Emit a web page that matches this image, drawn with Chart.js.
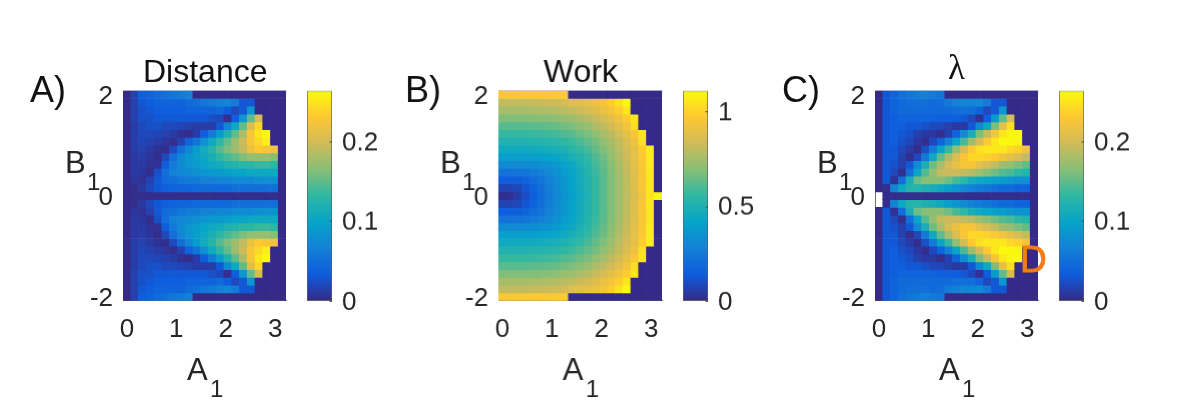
<!DOCTYPE html>
<html>
<head>
<meta charset="utf-8">
<title>Distance, Work and lambda maps</title>
<script src="https://cdn.jsdelivr.net/npm/chart.js@4"></script>
<style>
  html, body { margin: 0; padding: 0; background: #fff; }
  body { position: relative; width: 1200px; height: 405px; overflow: hidden; }
  canvas { position: absolute; display: block; }
</style>
</head>
<body>
<script>
// Grid coordinates of the parameter sweep
const aValues = [0,0.157,0.314,0.471,0.628,0.785,0.942,1.1,1.257,1.414,1.571,1.728,1.885,2.042,2.199,2.356,2.513,2.67,2.827,2.985,3.142];
const bValues = [2,1.846,1.692,1.538,1.385,1.231,1.077,0.923,0.769,0.615,0.462,0.308,0.154,0,-0.154,-0.308,-0.462,-0.615,-0.769,-0.923,-1.077,-1.231,-1.385,-1.538,-1.692,-1.846,-2];

const xTickValues = [0,1,2,3];
const yTickValues = [-2,0,2];

const distanceRange = [0,0.263];
const workRange = [0,1.108];
const lambdaRange = [0,0.263];
const distanceBarTicks = [0,0.1,0.2];
const workBarTicks = [0,0.5,1];
const lambdaBarTicks = [0,0.1,0.2];

// Each row runs along A1, from the top row (B1 = 2) to the bottom row (B1 = -2)
const distanceRows = [
[0,.015,.035,.04,.045,.05,.055,.06,.065,0,0,0,0,0,0,0,0,0,0,0,0],
[0,.015,.03,.035,.04,.04,.04,.04,.045,.05,.055,.06,.065,.07,.06,.03,.03,0,0,0,0],
[0,.015,.025,.03,.035,.035,.035,.035,.04,.04,.04,.04,.045,.035,.02,.03,.085,0,0,0,0],
[0,.015,.025,.025,.03,.03,.03,.03,.03,.03,.03,.025,.02,.003,.035,.085,.15,.2,0,0,0],
[0,.012,.02,.025,.025,.02,.02,.018,.015,.012,.012,.012,.03,.07,.105,.15,.205,.24,0,0,0],
[0,.012,.02,.02,.018,.015,.012,.005,.002,.012,.035,.06,.09,.12,.15,.18,.225,.25,.262,0,0],
[0,.012,.018,.015,.012,.008,.003,.015,.04,.055,.08,.105,.13,.15,.175,.195,.225,.24,.255,0,0],
[0,.012,.015,.01,.005,.002,.02,.05,.07,.09,.11,.125,.145,.16,.175,.19,.215,.23,.225,.22,0],
[0,.01,.012,.008,.002,.02,.05,.07,.085,.095,.105,.115,.13,.14,.15,.16,.17,.17,.17,.165,0],
[0,.01,.01,.005,.005,.035,.06,.075,.085,.09,.1,.105,.11,.12,.125,.13,.13,.135,.135,.13,0],
[0,.01,.008,.002,.025,.05,.065,.07,.075,.08,.085,.09,.09,.095,.1,.1,.105,.105,.105,.105,0],
[0,.008,.005,.015,.03,.045,.05,.055,.06,.06,.065,.065,.07,.07,.075,.075,.075,.08,.08,.08,0],
[0,.003,.01,.02,.03,.035,.04,.04,.04,.045,.045,.045,.045,.045,.05,.05,.05,.05,.05,.05,0],
[0,.002,.002,.002,.002,.002,.002,.002,.002,.002,.002,.002,.002,.002,.002,.002,.002,.002,.002,.002,0],
[0,.003,.01,.02,.03,.035,.04,.04,.04,.045,.045,.045,.045,.045,.05,.05,.05,.05,.05,.05,0],
[0,.008,.005,.015,.03,.045,.05,.055,.06,.06,.065,.065,.07,.07,.075,.075,.075,.08,.08,.08,0],
[0,.01,.008,.002,.025,.05,.065,.07,.075,.08,.085,.09,.09,.095,.1,.1,.105,.105,.105,.105,0],
[0,.01,.01,.005,.005,.035,.06,.075,.085,.09,.1,.105,.11,.12,.125,.13,.13,.135,.135,.13,0],
[0,.01,.012,.008,.002,.02,.05,.07,.085,.095,.105,.115,.13,.14,.15,.16,.17,.17,.17,.165,0],
[0,.012,.015,.01,.005,.002,.02,.05,.07,.09,.11,.125,.145,.16,.175,.19,.215,.23,.225,.22,0],
[0,.012,.018,.015,.012,.008,.003,.015,.04,.055,.08,.105,.13,.15,.175,.195,.225,.24,.255,0,0],
[0,.012,.02,.02,.018,.015,.012,.005,.002,.012,.035,.06,.09,.12,.15,.18,.225,.25,.262,0,0],
[0,.012,.02,.025,.025,.02,.02,.018,.015,.012,.012,.012,.03,.07,.105,.15,.205,.24,0,0,0],
[0,.015,.025,.025,.03,.03,.03,.03,.03,.03,.03,.025,.02,.003,.035,.085,.15,.2,0,0,0],
[0,.015,.025,.03,.035,.035,.035,.035,.04,.04,.04,.04,.045,.035,.02,.03,.085,0,0,0,0],
[0,.015,.03,.035,.04,.04,.04,.04,.045,.05,.055,.06,.065,.07,.06,.03,.03,0,0,0,0],
[0,.015,.035,.04,.045,.05,.055,.06,.065,0,0,0,0,0,0,0,0,0,0,0,0]
];

const workRows = [
[.96,.96,.96,.965,.965,.97,.97,.975,.98,0,0,0,0,0,0,0,0,0,0,0,0],
[.8,.8,.8,.805,.81,.815,.82,.83,.84,.87,.88,.89,.91,.94,.98,1.04,1.1,0,0,0,0],
[.75,.75,.75,.755,.76,.76,.765,.775,.785,.8,.82,.84,.87,.905,.94,.98,1.05,0,0,0,0],
[.68,.68,.68,.68,.685,.69,.695,.705,.72,.735,.755,.78,.81,.845,.885,.93,.98,1.05,0,0,0],
[.62,.62,.62,.62,.625,.63,.635,.645,.66,.675,.7,.725,.76,.795,.835,.88,.93,1.03,0,0,0],
[.565,.565,.565,.565,.57,.575,.58,.59,.605,.625,.65,.675,.71,.75,.79,.84,.89,.95,1.05,0,0],
[.51,.51,.51,.51,.515,.52,.525,.54,.555,.575,.6,.63,.665,.705,.755,.805,.86,.92,1.04,0,0],
[.455,.455,.455,.455,.46,.465,.475,.485,.505,.53,.56,.595,.635,.68,.73,.785,.84,.9,.98,1.07,0],
[.39,.39,.39,.39,.395,.405,.415,.43,.455,.485,.52,.56,.605,.655,.71,.77,.825,.89,.97,1.07,0],
[.31,.31,.31,.315,.325,.335,.35,.375,.41,.445,.49,.535,.585,.64,.695,.755,.815,.88,.96,1.065,0],
[.22,.22,.225,.235,.25,.27,.3,.335,.375,.42,.47,.52,.57,.625,.685,.745,.805,.875,.955,1.06,0],
[.145,.145,.15,.17,.2,.235,.275,.315,.36,.41,.46,.51,.56,.62,.68,.74,.8,.87,.95,1.06,0],
[.07,.07,.08,.12,.16,.21,.26,.31,.36,.41,.46,.51,.56,.62,.68,.74,.8,.87,.95,1.06,0],
[.01,.02,.05,.1,.15,.2,.25,.3,.35,.4,.45,.5,.56,.62,.68,.74,.8,.86,.94,1.05,1.1],
[.07,.07,.08,.12,.16,.21,.26,.31,.36,.41,.46,.51,.56,.62,.68,.74,.8,.87,.95,1.06,0],
[.145,.145,.15,.17,.2,.235,.275,.315,.36,.41,.46,.51,.56,.62,.68,.74,.8,.87,.95,1.06,0],
[.22,.22,.225,.235,.25,.27,.3,.335,.375,.42,.47,.52,.57,.625,.685,.745,.805,.875,.955,1.06,0],
[.31,.31,.31,.315,.325,.335,.35,.375,.41,.445,.49,.535,.585,.64,.695,.755,.815,.88,.96,1.065,0],
[.39,.39,.39,.39,.395,.405,.415,.43,.455,.485,.52,.56,.605,.655,.71,.77,.825,.89,.97,1.07,0],
[.455,.455,.455,.455,.46,.465,.475,.485,.505,.53,.56,.595,.635,.68,.73,.785,.84,.9,.98,1.07,0],
[.51,.51,.51,.51,.515,.52,.525,.54,.555,.575,.6,.63,.665,.705,.755,.805,.86,.92,1.04,0,0],
[.565,.565,.565,.565,.57,.575,.58,.59,.605,.625,.65,.675,.71,.75,.79,.84,.89,.95,1.05,0,0],
[.62,.62,.62,.62,.625,.63,.635,.645,.66,.675,.7,.725,.76,.795,.835,.88,.93,1.03,0,0,0],
[.68,.68,.68,.68,.685,.69,.695,.705,.72,.735,.755,.78,.81,.845,.885,.93,.98,1.05,0,0,0],
[.75,.75,.75,.755,.76,.76,.765,.775,.785,.8,.82,.84,.87,.905,.94,.98,1.05,0,0,0,0],
[.8,.8,.8,.805,.81,.815,.82,.83,.84,.87,.88,.89,.91,.94,.98,1.04,1.1,0,0,0,0],
[.96,.96,.96,.965,.965,.97,.97,.975,.98,0,0,0,0,0,0,0,0,0,0,0,0]
];

// Two cells on the A1 = 0 edge have no value and stay blank
const lambdaRows = [
[0,.03,.04,.05,.055,.06,.065,.06,.055,0,0,0,0,0,0,0,0,0,0,0,0],
[0,.03,.04,.045,.05,.05,.05,.045,.05,.06,.065,.07,.07,.075,.06,.03,.03,0,0,0,0],
[0,.03,.04,.045,.045,.045,.045,.045,.045,.045,.05,.05,.05,.04,.02,.03,.085,0,0,0,0],
[0,.03,.035,.04,.04,.04,.04,.04,.035,.035,.035,.03,.02,.005,.035,.09,.15,.2,0,0,0],
[0,.03,.035,.035,.03,.03,.025,.02,.02,.015,.01,.01,.03,.07,.105,.16,.21,.245,0,0,0],
[0,.03,.035,.03,.025,.015,.01,.01,.002,.015,.04,.075,.115,.16,.19,.225,.25,.26,.263,0,0],
[0,.03,.035,.025,.02,.01,.003,.02,.04,.065,.1,.14,.175,.2,.23,.25,.262,.262,.26,0,0],
[0,.03,.03,.02,.012,.002,.025,.06,.1,.135,.17,.2,.23,.245,.25,.25,.25,.24,.235,.22,0],
[0,.03,.03,.015,.003,.02,.06,.105,.15,.18,.205,.225,.24,.24,.235,.23,.22,.21,.2,.19,0],
[0,.03,.025,.015,.03,.075,.115,.155,.18,.2,.215,.225,.225,.21,.2,.19,.175,.17,.16,.15,0],
[0,.03,.02,.003,.05,.1,.145,.17,.19,.195,.195,.19,.185,.175,.165,.155,.145,.14,.13,.125,0],
[0,.03,.005,.05,.115,.155,.165,.165,.165,.155,.14,.13,.115,.105,.1,.095,.09,.085,.08,.08,0],
[0,.003,.07,.105,.125,.125,.12,.115,.105,.095,.085,.075,.065,.06,.055,.05,.045,.045,.04,.04,0],
[null,.002,.002,.002,.002,.002,.002,.002,.002,.002,.002,.002,.002,.002,.002,.002,.002,.002,.002,.002,0],
[null,.003,.07,.105,.125,.125,.12,.115,.105,.095,.085,.075,.065,.06,.055,.05,.045,.045,.04,.04,0],
[0,.03,.005,.05,.115,.155,.165,.165,.165,.155,.14,.13,.115,.105,.1,.095,.09,.085,.08,.08,0],
[0,.03,.02,.003,.05,.1,.145,.17,.19,.195,.195,.19,.185,.175,.165,.155,.145,.14,.13,.125,0],
[0,.03,.025,.015,.03,.075,.115,.155,.18,.2,.215,.225,.225,.21,.2,.19,.175,.17,.16,.15,0],
[0,.03,.03,.015,.003,.02,.06,.105,.15,.18,.205,.225,.24,.24,.235,.23,.22,.21,.2,.19,0],
[0,.03,.03,.02,.012,.002,.025,.06,.1,.135,.17,.2,.23,.245,.25,.25,.25,.24,.235,.22,0],
[0,.03,.035,.025,.02,.01,.003,.02,.04,.065,.1,.14,.175,.2,.23,.25,.262,.262,.26,0,0],
[0,.03,.035,.03,.025,.015,.01,.01,.002,.015,.04,.075,.115,.16,.19,.225,.25,.26,.263,0,0],
[0,.03,.035,.035,.03,.03,.025,.02,.02,.015,.01,.01,.03,.07,.105,.16,.21,.245,0,0,0],
[0,.03,.035,.04,.04,.04,.04,.04,.035,.035,.035,.03,.02,.005,.035,.09,.15,.2,0,0,0],
[0,.03,.04,.045,.045,.045,.045,.045,.045,.045,.05,.05,.05,.04,.02,.03,.085,0,0,0,0],
[0,.03,.04,.045,.05,.05,.05,.045,.05,.06,.065,.07,.07,.075,.06,.03,.03,0,0,0,0],
[0,.03,.04,.05,.055,.06,.065,.06,.055,0,0,0,0,0,0,0,0,0,0,0,0]
];

// Colour stops of the sequential map, low to high
const mapStops = [[53,42,135],[15,92,221],[20,129,214],[6,164,202],[46,183,164],[135,191,119],[209,187,89],[254,200,50],[249,251,14]];

function mapColor(f) {
  const t = Math.min(1, Math.max(0, f)) * (mapStops.length - 1);
  const i = Math.min(mapStops.length - 2, Math.floor(t));
  const u = t - i;
  const c = mapStops[i].map((v, k) => Math.round(v + (mapStops[i + 1][k] - v) * u));
  return `rgb(${c[0]},${c[1]},${c[2]})`;
}

const SANS = '"Liberation Sans", Arial, sans-serif';
const INK = '#262626';
const AXIS = '#6e6e6e';
const TICK_SIZE = 26;
const PLOT_W = 163.3, PLOT_H = 210, PLOT_TOP = 90.7;
const LEFT_ROOM = 100, RIGHT_ROOM = 12, TOP_ROOM = 50.7, CANVAS_TOP = 40, CANVAS_H = 365;

function addCanvas(left, top, width, height) {
  const c = document.createElement('canvas');
  c.style.left = left + 'px';
  c.style.top = top + 'px';
  c.style.width = width + 'px';
  c.style.height = height + 'px';
  c.width = width; c.height = height;
  document.body.appendChild(c);
  return c;
}

// Writes the panel's free-standing labels, offsets counted from the plot's left edge
const panelText = {
  id: 'panelText',
  afterDraw(chart, _a, opts) {
    const { ctx, chartArea } = chart;
    ctx.save();
    ctx.textBaseline = 'alphabetic';
    ctx.textAlign = 'left';
    for (const [text, dx, y, font, color, stroke] of opts.items) {
      ctx.font = font;
      ctx.fillStyle = color;
      ctx.fillText(text, chartArea.left + dx, y - CANVAS_TOP);
      if (stroke) {
        ctx.strokeStyle = color;
        ctx.lineWidth = stroke;
        ctx.strokeText(text, chartArea.left + dx, y - CANVAS_TOP);
      }
    }
    ctx.restore();
  }
};

function heatmap(left, rows, range, items) {
  const step = (bValues[0] - bValues[1]) / 2;
  const datasets = rows.map((row, r) => ({
    label: 'B1 = ' + bValues[r],
    data: row.map(v => v === null ? null : [bValues[r] - step, bValues[r] + step]),
    backgroundColor: row.map(v => v === null ? 'rgba(0,0,0,0)' : mapColor(v / range[1])),
    borderWidth: 0,
    barPercentage: 1,
    categoryPercentage: 1,
    grouped: false,
    xAxisID: 'x',
    yAxisID: 'y'
  }));
  const halfA = (aValues[1] - aValues[0]) / 2;
  const canvas = addCanvas(left - LEFT_ROOM, CANVAS_TOP, LEFT_ROOM + PLOT_W + RIGHT_ROOM, CANVAS_H);
  return new Chart(canvas, {
    type: 'bar',
    data: { labels: aValues.map(String), datasets },
    plugins: [panelText],
    options: {
      responsive: false,
      animation: false,
      layout: { padding: { left: 0, right: RIGHT_ROOM, top: TOP_ROOM, bottom: 0 } },
      plugins: { legend: { display: false }, tooltip: { enabled: false }, panelText: { items } },
      scales: {
        x: { type: 'category', display: false, offset: true },
        y: {
          type: 'linear',
          min: bValues[bValues.length - 1] - step,
          max: bValues[0] + step,
          afterBuildTicks: s => { s.ticks = yTickValues.map(value => ({ value })); },
          afterFit: s => { s.width = LEFT_ROOM; },
          ticks: { font: { family: SANS, size: TICK_SIZE }, color: INK, padding: 10, labelOffset: 2.5, autoSkip: false, maxRotation: 0 },
          grid: { display: false, drawTicks: false },
          border: { display: true, color: AXIS, width: 1 }
        },
        xTop: {
          type: 'linear', position: 'top', offset: false,
          min: aValues[0] - halfA, max: aValues[aValues.length - 1] + halfA,
          afterFit: s => { s.height = 0; },
          ticks: { display: false },
          grid: { display: false, drawTicks: false },
          border: { display: true, color: '#c9c9d6', width: 1 }
        },
        xLabels: {
          type: 'linear', position: 'bottom', offset: false,
          min: aValues[0] - halfA, max: aValues[aValues.length - 1] + halfA,
          afterBuildTicks: s => { s.ticks = xTickValues.map(value => ({ value })); },
          afterFit: s => { s.height = CANVAS_H - TOP_ROOM - PLOT_H; },
          ticks: { font: { family: SANS, size: TICK_SIZE }, color: INK, padding: 14, autoSkip: false, maxRotation: 0, callback: v => String(v) },
          grid: { display: false, drawTicks: false },
          border: { display: true, color: AXIS, width: 1 }
        }
      }
    }
  });
}

// Short inward marks on the colour bar's tick positions
const barTicks = {
  id: 'barTicks',
  afterDraw(chart) {
    const { ctx, chartArea, scales } = chart;
    ctx.save();
    ctx.strokeStyle = '#4a4a4a';
    ctx.lineWidth = 1;
    scales.y.ticks.forEach(t => {
      const y = Math.round(scales.y.getPixelForValue(t.value)) + 0.5;
      ctx.beginPath();
      ctx.moveTo(chartArea.right - 2.5, y);
      ctx.lineTo(chartArea.right, y);
      ctx.stroke();
    });
    ctx.restore();
  }
};

function colorBar(left, range, tickValues) {
  const BAR_W = 25.3, AXIS_W = 70, BOTTOM = 30;
  const canvas = addCanvas(left, CANVAS_TOP, BAR_W + AXIS_W, TOP_ROOM + PLOT_H + BOTTOM);
  return new Chart(canvas, {
    type: 'bar',
    data: {
      labels: ['scale'],
      datasets: [{
        data: [range],
        barPercentage: 1,
        categoryPercentage: 1,
        borderColor: '#5f5f5f',
        borderWidth: 1,
        borderSkipped: false,
        backgroundColor(ctx) {
          const area = ctx.chart.chartArea;
          if (!area) return mapColor(0.5);
          const g = ctx.chart.ctx.createLinearGradient(0, area.bottom, 0, area.top);
          mapStops.forEach((_, i) => g.addColorStop(i / (mapStops.length - 1), mapColor(i / (mapStops.length - 1))));
          return g;
        }
      }]
    },
    plugins: [barTicks],
    options: {
      responsive: false,
      animation: false,
      layout: { padding: { top: TOP_ROOM, bottom: BOTTOM } },
      plugins: { legend: { display: false }, tooltip: { enabled: false } },
      scales: {
        x: { display: false, offset: true },
        y: {
          position: 'right',
          min: range[0], max: range[1],
          afterBuildTicks: s => { s.ticks = tickValues.map(value => ({ value })); },
          afterFit: s => { s.width = AXIS_W; },
          ticks: { font: { family: SANS, size: TICK_SIZE }, color: INK, padding: 10, labelOffset: 1.5, autoSkip: false, maxRotation: 0, callback: v => String(v) },
          grid: { display: false, drawTicks: false },
          border: { display: false }
        }
      }
    }
  });
}

function axisLabels(letter, title, titleDx, titleY, titleFont) {
  const L = SANS;
  return [
    [letter, -93, 102, `36px ${L}`, '#111'],
    [title, titleDx, titleY, titleFont, '#111'],
    ['B', -58, 173, `31px ${L}`, INK],
    ['1', -36, 190, `24px ${L}`, INK],
    ['A', 64, 380, `31px ${L}`, INK],
    ['1', 87, 397, `24px ${L}`, INK]
  ];
}

heatmap(122.7, distanceRows, distanceRange, axisLabels('A)', 'Distance', 20, 82, `32px ${SANS}`));
colorBar(306.7, distanceRange, distanceBarTicks);

heatmap(498.3, workRows, workRange, axisLabels('B)', 'Work', 45, 82, `32px ${SANS}`));
colorBar(683, workRange, workBarTicks);

heatmap(875, lambdaRows, lambdaRange,
  axisLabels('C)', '\u03bb', 73, 79, '35px "Liberation Serif", serif').concat([
    ['D', 145, 272, `37px ${SANS}`, '#f57c12', 0.8]
  ]));
colorBar(1059, lambdaRange, lambdaBarTicks);
</script>
</body>
</html>
